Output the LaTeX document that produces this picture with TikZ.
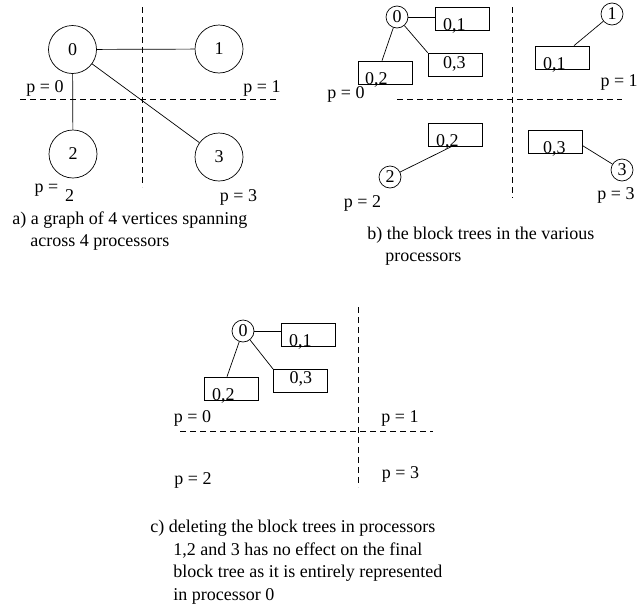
\documentclass[tikz,border=0pt]{standalone}
\usepackage{fontspec}
\setmainfont{Liberation Serif}
\begin{document}
\begin{tikzpicture}[x=1pt,y=-1pt,line width=0.7pt,
  every node/.style={font=\fontsize{18}{22}\selectfont, inner sep=0pt},
  bigv/.style={circle,draw,minimum size=48pt},
  smallv/.style={circle,draw,minimum size=22pt},
  blk/.style={draw,minimum width=54pt,minimum height=23pt},
  sep/.style={dash pattern=on 6pt off 4pt}]
\useasboundingbox (0,0) rectangle (639,608);

% ---------- panel a ----------
\draw[sep] (142.7,7) coordinate (av1) -- (142.7,187) coordinate (av2);
\draw[sep] (20,99.3) coordinate (ah1) -- (277,99.3) coordinate (ah2);
\node[bigv] (a0) at (72.5,49.5) {0};
\node[bigv] (a1) at (219,49) {1};
\node[bigv] (a2) at (73,154) {2};
\node[bigv] (a3) at (219,157) {3};
\draw (a0) -- (a1);
\draw (a0) -- (a2);
\draw (a0) -- (a3);
\node (ap0) at (45,88) {p = 0};
\node (ap1) at (262,88) {p = 1};
\node (ap2) at (46.5,190) {p =};
\node (ap2n) at (69.5,196) {2};
\node (ap3) at (238.5,197) {p = 3};
\node[anchor=base west] (capa1) at (12,224) {a) a graph of 4 vertices spanning};
\node[anchor=base west] (capa2) at (30,246) {across 4 processors};

% ---------- panel b ----------
\draw[sep] (512,7) coordinate (bv1) -- (512,198) coordinate (bv2);
\draw[sep] (397,99.3) coordinate (bh1) -- (622,99.3) coordinate (bh2);
\node[smallv] (b0) at (397,17) {0};
\node[blk] (b01) at (462,18.5) {};
\node[blk] (b03) at (455,64.5) {};
\node[blk] (b02) at (385,72.5) {};
\node[anchor=base west] (b01t) at ([xshift=8pt]b01.south west) {0,1};
\node[anchor=base west] (b03t) at ([xshift=15pt,yshift=8pt]b03.south west) {0,3};
\node[anchor=base west] (b02t) at ([xshift=7pt]b02.south west) {0,2};
\draw (b0.east) -- (b0.east -| b01.west);
\draw (b0) -- (b03.north west);
\draw (b0) -- ([xshift=-3pt]b02.north);

\node[smallv] (b1) at (612,14) {1};
\node[blk] (b11) at (562,57.5) {};
\node[anchor=base west] (b11t) at ([xshift=8pt]b11.south west) {0,1};
\draw (b1) -- ([xshift=12pt]b11.north);

\node[blk] (b22) at (455,134.5) {};
\node[anchor=base west] (b22t) at ([xshift=8pt]b22.south west) {0,2};
\node[smallv] (b2) at (390,177) {2};
\draw (b2) -- ([xshift=-3pt]b22.south);

\node[blk] (b33) at (555,141.5) {};
\node[anchor=base west] (b33t) at ([xshift=15pt]b33.south west) {0,3};
\node[smallv] (b3) at (622,170) {3};
\draw ([yshift=-4pt]b33.east) -- (b3);

\node (bp0) at (346,94) {p = 0};
\node[anchor=east] (bp1) at (638,82) {p = 1};
\node (bp2) at (362.5,203) {p = 2};
\node (bp3) at (616,195) {p = 3};
\node[anchor=base west] (capb1) at (367,239) {b) the block trees in the various};
\node[anchor=base west] (capb2) at (385,261) {processors};

% ---------- panel c ----------
\draw[sep] (358,307) coordinate (cv1) -- (358,487) coordinate (cv2);
\draw[sep] (180,431) coordinate (ch1) -- (433,431) coordinate (ch2);
\node[smallv] (c0) at (243,331) {0};
\node[blk] (c01) at (308,334.5) {};
\node[blk] (c03) at (300.5,381) {};
\node[blk] (c02) at (231,388.5) {};
\node[anchor=base west] (c01t) at ([xshift=8pt]c01.south west) {0,1};
\node[anchor=base west] (c03t) at ([xshift=16pt,yshift=9pt]c03.south west) {0,3};
\node[anchor=base west] (c02t) at ([xshift=8pt]c02.south west) {0,2};
\draw (c0.east) -- (c0.east -| c01.west);
\draw (c0) -- (c03.north west);
\draw (c0) -- ([xshift=-4pt]c02.north);
\node (cp0) at (192.5,418) {p = 0};
\node (cp1) at (400,418) {p = 1};
\node (cp2) at (193,480) {p = 2};
\node (cp3) at (400.5,474) {p = 3};
\node[anchor=base west] (capc1) at (150,532) {c) deleting the block trees in processors};
\node[anchor=base west] (capc2) at (173,555) {1,2 and 3 has no effect on the final};
\node[anchor=base west] (capc3) at (173,577) {block tree as it is entirely represented};
\node[anchor=base west] (capc4) at (173,600) {in processor 0};
\end{tikzpicture}
\end{document}
